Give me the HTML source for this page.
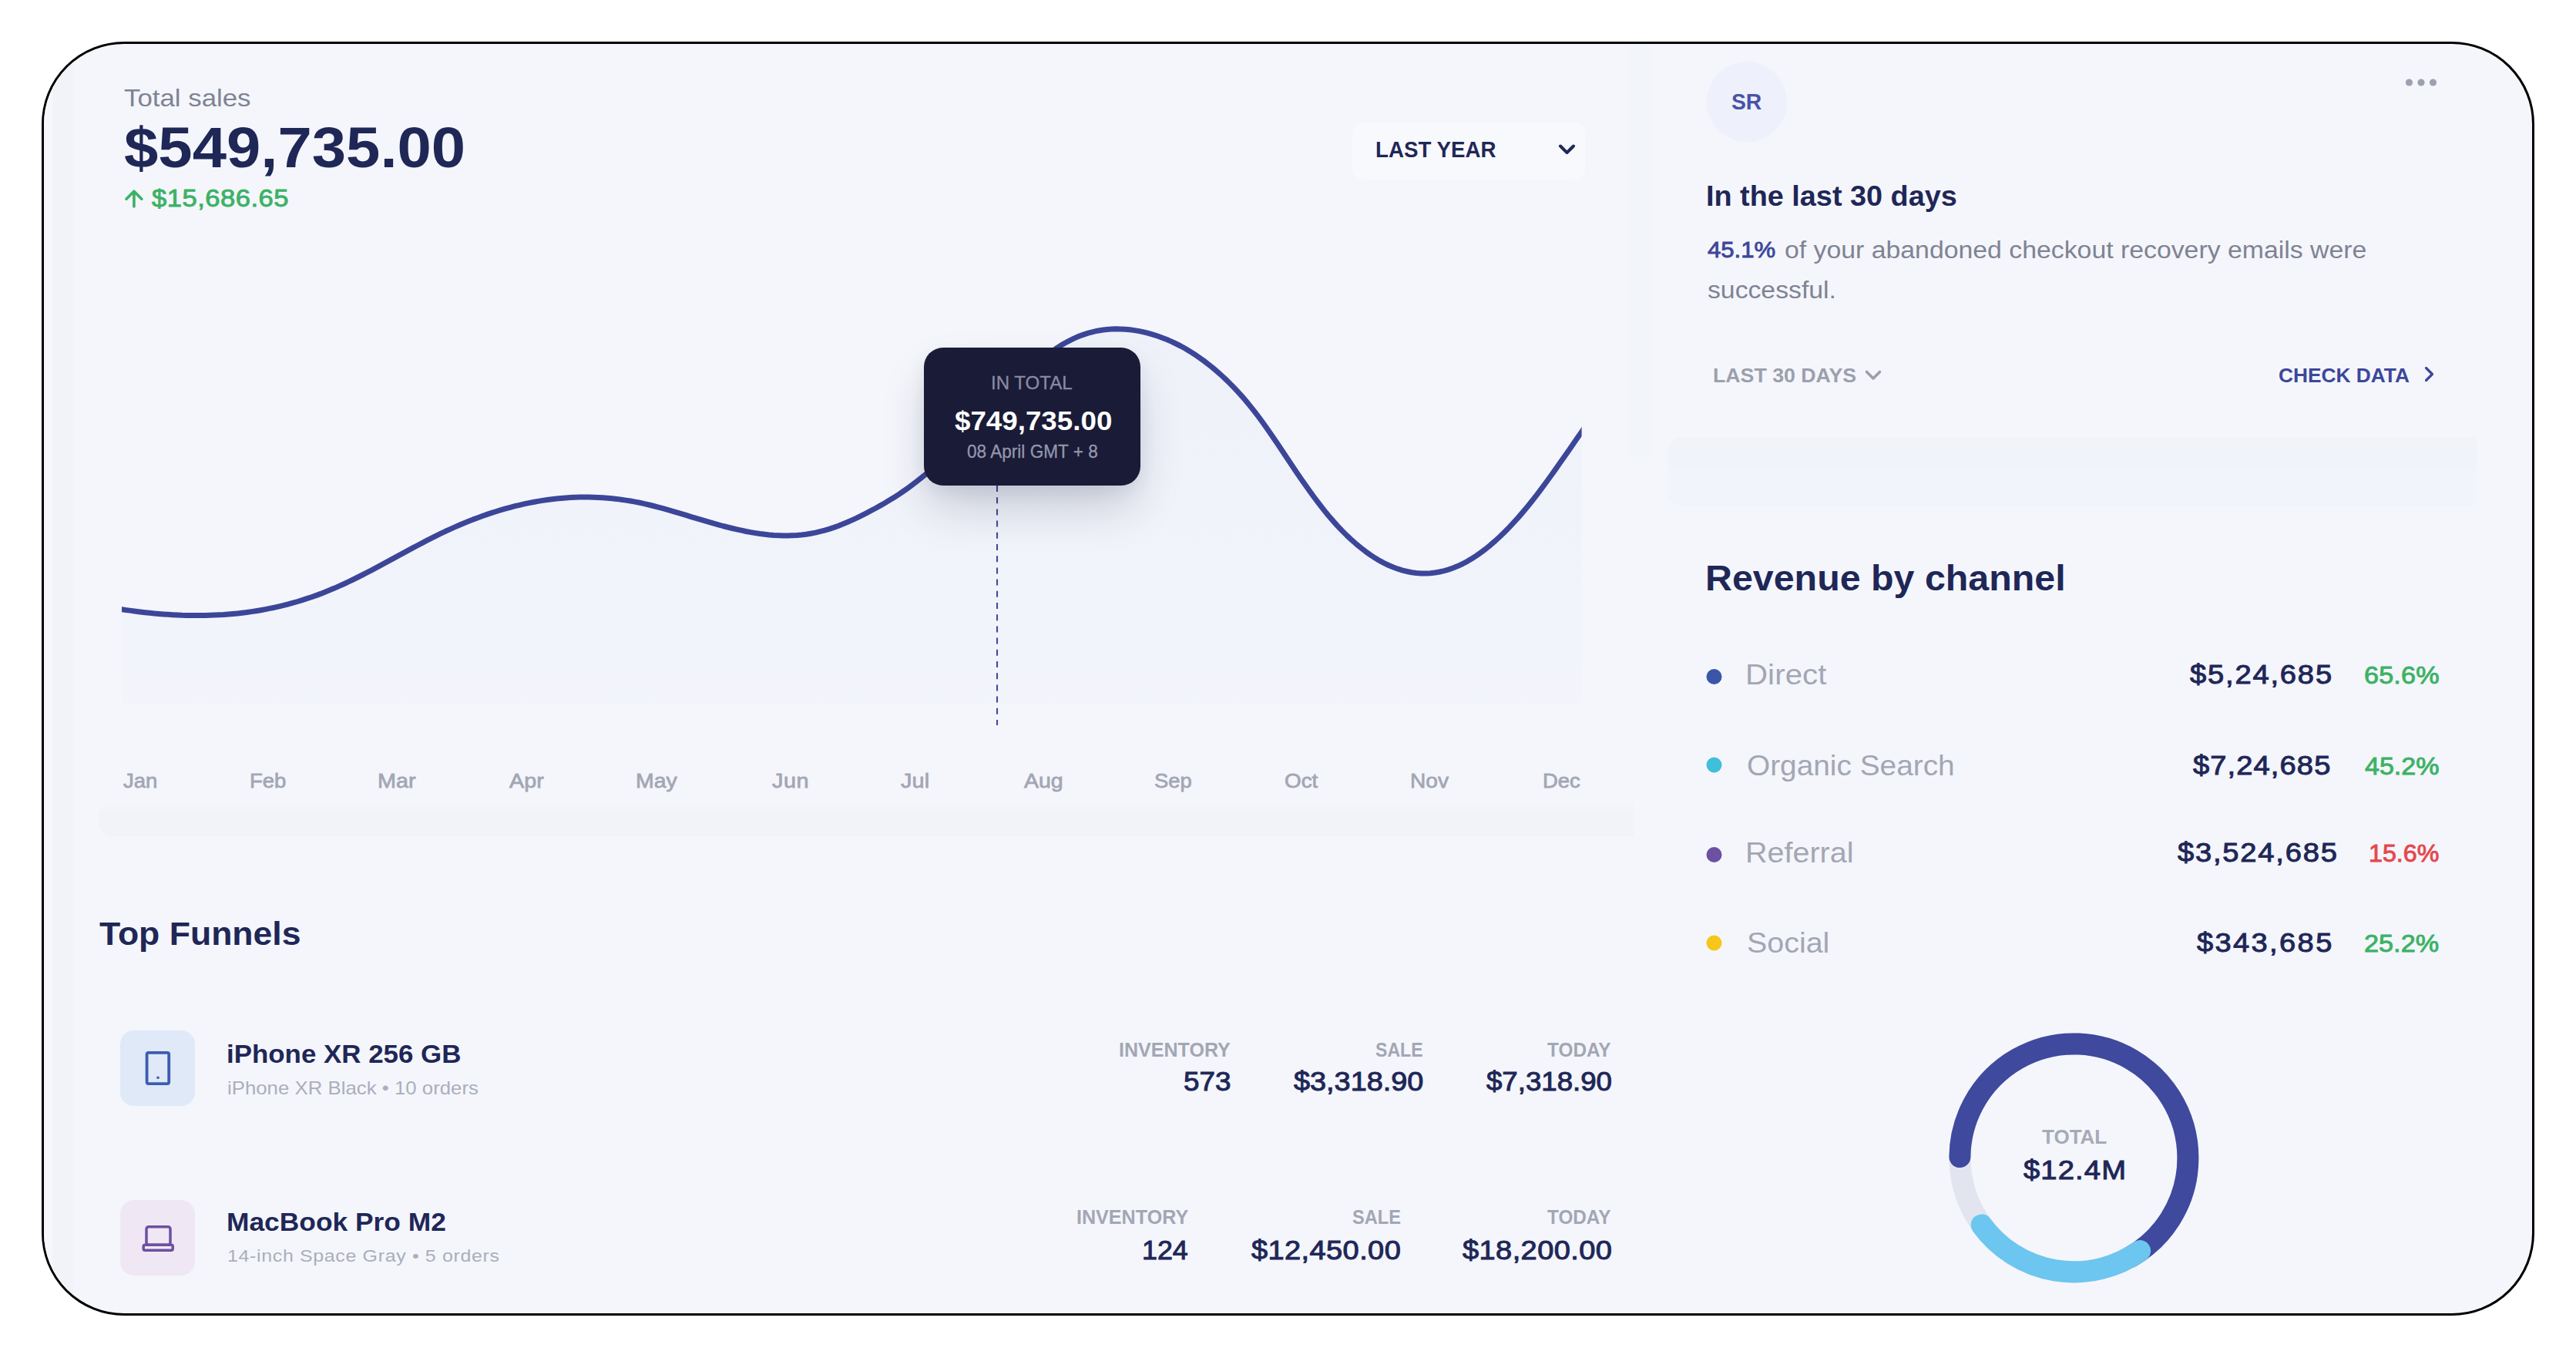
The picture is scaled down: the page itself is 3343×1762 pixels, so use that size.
<!DOCTYPE html><html lang="en"><head><meta charset="utf-8"><title>Sales dashboard</title>
<style>
html,body{margin:0;padding:0;background:#fff;}
body{width:3343px;height:1762px;position:relative;overflow:hidden;font-family:"Liberation Sans", sans-serif;}
.frame{position:absolute;left:54px;top:54px;width:3229px;height:1647px;border:3px solid #000;border-radius:107px;background:#f4f6fb;overflow:hidden;}
.t{position:absolute;display:block;white-space:nowrap;line-height:1;margin:0;padding:0;transform-origin:0 0;font-weight:400;}
.abs{position:absolute;}
svg{position:absolute;left:0;top:0;overflow:visible;}
</style></head><body>
<div class="frame">

<div class="abs" style="left:71px;top:978px;width:1992px;height:50px;background:linear-gradient(rgba(241,243,248,0) 0,#f1f3f8 45%,#f1f3f8 100%);border-radius:24px 0 0 18px;"></div>
<div class="abs" style="left:2055px;top:0;width:31px;height:535px;background:#f2f5fa;"></div>
<div class="abs" style="left:11px;top:0;width:27px;height:1647px;background:#f1f3f9;"></div>
<div class="abs" style="left:0;top:0;width:11px;height:1647px;background:#f5f7fb;"></div>
<div class="abs" style="left:2108px;top:510px;width:1049px;height:89px;background:linear-gradient(#f1f3f8 0,#f1f3f8 28%,#f1f3fb 28%,#f1f3fb 45%,#f1f4fa 45%);border-radius:16px 0 0 16px;"></div>

<div class="abs" style="left:1698px;top:102px;width:302px;height:74px;border-radius:14px;background:#f8f9fc;"></div>
</div>

<svg width="3343" height="1762" viewBox="0 0 3343 1762">
<!-- up arrow -->
<path d="M173.9,268 V248.2 M164,258.2 L173.9,248.2 L183.8,258.2" fill="none" stroke="#3db265" stroke-width="3.6" stroke-linecap="round" stroke-linejoin="round"/>
<!-- chevrons -->
<path d="M2025,189.5 L2033.5,198 L2042,189.5" fill="none" stroke="#1f2757" stroke-width="4" stroke-linecap="round" stroke-linejoin="round"/>
<path d="M2422.5,482.5 L2431,491 L2439.5,482.5" fill="none" stroke="#9c9fad" stroke-width="3.6" stroke-linecap="round" stroke-linejoin="round"/>
<path d="M3148.5,477.5 L3156.5,485.5 L3148.5,493.5" fill="none" stroke="#3d4799" stroke-width="3.2" stroke-linecap="round" stroke-linejoin="round"/>
<!-- avatar -->
<circle cx="2267" cy="132" r="52" fill="#eef0fb"/>
<!-- more dots -->
<circle cx="3126.5" cy="107" r="4.6" fill="#9da0ae"/><circle cx="3142" cy="107" r="4.6" fill="#9da0ae"/><circle cx="3157.5" cy="107" r="4.6" fill="#9da0ae"/>
<!-- legend dots -->
<circle cx="2224.5" cy="878" r="10" fill="#3a56a8"/>
<circle cx="2224.5" cy="992.5" r="10" fill="#40bfda"/>
<circle cx="2224.5" cy="1109" r="10" fill="#6c50a1"/>
<circle cx="2224.5" cy="1223.5" r="10" fill="#f6c61a"/>
<!-- product icons -->
<rect x="156" y="1337" width="97" height="98" rx="18" fill="#dfe9f8"/>
<rect x="190.6" y="1365.9" width="28.6" height="40.3" rx="2.2" fill="none" stroke="#3d5db1" stroke-width="3.8"/>
<circle cx="205" cy="1398.3" r="1.8" fill="#3d5db1"/>
<rect x="156" y="1557" width="97" height="98" rx="18" fill="#efe8f4"/>
<rect x="190" y="1591.7" width="31" height="23.5" rx="3" fill="none" stroke="#6c50a1" stroke-width="3.5"/>
<rect x="186.2" y="1615.2" width="38" height="7" rx="2" fill="none" stroke="#6c50a1" stroke-width="3.5"/>
<!-- donut -->
<circle cx="2691.4" cy="1502.4" r="148" fill="none" stroke="#e2e4f0" stroke-width="28"/>
<path d="M2543.4,1501.1 A148,148 0 1 1 2765.4,1630.6" fill="none" stroke="#3f499d" stroke-width="28" stroke-linecap="round"/>
<path d="M2777.1,1623.0 A148,148 0 0 1 2571.7,1589.4" fill="none" stroke="#6cc6ef" stroke-width="28" stroke-linecap="round"/>
</svg>

<section aria-label="Total sales">
<svg width="3343" height="1762" viewBox="0 0 3343 1762" role="img" aria-label="Sales chart">
<defs><clipPath id="cc"><rect x="158" y="380" width="1894.6" height="540"/></clipPath><linearGradient id="ag" x1="0" y1="0" x2="0" y2="1"><stop offset="0" stop-color="#dce2f3" stop-opacity="0.24"/><stop offset="1" stop-color="#dce2f3" stop-opacity="0.07"/></linearGradient></defs>
<path d="M150.2,789.5 L158.2,790.7 L164.2,791.6 L170.2,792.4 L176.2,793.2 L182.2,794.0 L188.2,794.7 L194.2,795.3 L200.2,795.9 L206.2,796.4 L212.2,796.9 L218.2,797.3 L224.2,797.7 L230.2,798.0 L236.2,798.3 L242.2,798.4 L248.2,798.6 L254.2,798.6 L260.2,798.6 L266.2,798.5 L272.2,798.3 L278.2,798.1 L284.2,797.8 L290.2,797.5 L296.2,797.0 L302.2,796.5 L308.2,795.9 L314.2,795.2 L320.2,794.5 L326.2,793.6 L332.2,792.7 L338.2,791.7 L344.2,790.6 L350.2,789.4 L356.2,788.2 L362.2,786.8 L368.2,785.4 L374.2,783.8 L380.2,782.2 L386.2,780.5 L392.2,778.6 L398.2,776.7 L404.2,774.7 L410.2,772.6 L416.2,770.4 L422.2,768.0 L428.2,765.6 L434.2,763.1 L440.2,760.4 L446.2,757.7 L452.2,754.9 L458.2,752.0 L464.2,749.0 L470.2,746.0 L476.2,742.9 L482.2,739.8 L488.2,736.6 L494.2,733.4 L500.2,730.2 L506.2,726.9 L512.2,723.6 L518.2,720.4 L524.2,717.1 L530.2,713.9 L536.2,710.7 L542.2,707.5 L548.2,704.3 L554.2,701.2 L560.2,698.1 L566.2,695.1 L572.2,692.2 L578.2,689.3 L584.2,686.6 L590.2,683.9 L596.2,681.3 L602.2,678.7 L608.2,676.3 L614.2,673.9 L620.2,671.7 L626.2,669.5 L632.2,667.4 L638.2,665.4 L644.2,663.5 L650.2,661.7 L656.2,659.9 L662.2,658.3 L668.2,656.7 L674.2,655.3 L680.2,653.9 L686.2,652.6 L692.2,651.5 L698.2,650.4 L704.2,649.4 L710.2,648.5 L716.2,647.7 L722.2,647.1 L728.2,646.5 L734.2,646.0 L740.2,645.6 L746.2,645.3 L752.2,645.1 L758.2,645.1 L764.2,645.1 L770.2,645.2 L776.2,645.4 L782.2,645.8 L788.2,646.2 L794.2,646.8 L800.2,647.4 L806.2,648.2 L812.2,649.1 L818.2,650.0 L824.2,651.1 L830.2,652.3 L836.2,653.6 L842.2,655.0 L848.2,656.5 L854.2,658.1 L860.2,659.7 L866.2,661.4 L872.2,663.1 L878.2,664.9 L884.2,666.6 L890.2,668.4 L896.2,670.3 L902.2,672.1 L908.2,673.9 L914.2,675.7 L920.2,677.4 L926.2,679.2 L932.2,680.8 L938.2,682.5 L944.2,684.0 L950.2,685.5 L956.2,686.9 L962.2,688.2 L968.2,689.5 L974.2,690.6 L980.2,691.6 L986.2,692.5 L992.2,693.2 L998.2,693.9 L1004.2,694.4 L1010.2,694.7 L1016.2,694.9 L1022.2,694.9 L1028.2,694.7 L1034.2,694.4 L1040.2,693.9 L1046.2,693.2 L1052.2,692.2 L1058.2,691.1 L1064.2,689.7 L1070.2,688.2 L1076.2,686.4 L1082.2,684.4 L1088.2,682.2 L1094.2,679.8 L1100.2,677.3 L1106.2,674.6 L1112.2,671.8 L1118.2,668.8 L1124.2,665.8 L1130.2,662.7 L1136.2,659.5 L1142.2,656.1 L1148.2,652.7 L1154.2,649.1 L1160.2,645.4 L1166.2,641.6 L1172.2,637.5 L1178.2,633.3 L1184.2,628.9 L1190.2,624.3 L1196.2,619.5 L1202.2,614.6 L1208.2,609.5 L1214.2,604.2 L1220.2,598.8 L1226.2,593.2 L1232.2,587.6 L1238.2,581.8 L1244.2,575.9 L1250.2,569.9 L1256.2,563.8 L1262.2,557.6 L1268.2,551.4 L1274.2,545.1 L1280.2,538.8 L1286.2,532.4 L1292.2,526.0 L1298.2,519.6 L1304.2,513.2 L1310.2,506.8 L1316.2,500.6 L1322.2,494.4 L1328.2,488.4 L1334.2,482.6 L1340.2,476.9 L1346.2,471.5 L1352.2,466.3 L1358.2,461.4 L1364.2,456.8 L1370.2,452.5 L1376.2,448.6 L1382.2,445.0 L1388.2,441.8 L1394.2,438.9 L1400.2,436.3 L1406.2,434.1 L1412.2,432.2 L1418.2,430.6 L1424.2,429.2 L1430.2,428.2 L1436.2,427.5 L1442.2,427.0 L1448.2,426.8 L1454.2,426.9 L1460.2,427.2 L1466.2,427.8 L1472.2,428.6 L1478.2,429.6 L1484.2,430.9 L1490.2,432.4 L1496.2,434.1 L1502.2,436.0 L1508.2,438.2 L1514.2,440.5 L1520.2,443.1 L1526.2,446.0 L1532.2,449.0 L1538.2,452.3 L1544.2,455.9 L1550.2,459.7 L1556.2,463.8 L1562.2,468.1 L1568.2,472.7 L1574.2,477.5 L1580.2,482.6 L1586.2,488.0 L1592.2,493.6 L1598.2,499.6 L1604.2,505.9 L1610.2,512.4 L1616.2,519.3 L1622.2,526.6 L1628.2,534.1 L1634.2,542.0 L1640.2,550.3 L1646.2,558.8 L1652.2,567.5 L1658.2,576.3 L1664.2,585.3 L1670.2,594.3 L1676.2,603.3 L1682.2,612.2 L1688.2,621.0 L1694.2,629.6 L1700.2,638.1 L1706.2,646.3 L1712.2,654.2 L1718.2,661.8 L1724.2,669.2 L1730.2,676.1 L1736.2,682.8 L1742.2,689.1 L1748.2,695.1 L1754.2,700.7 L1760.2,706.0 L1766.2,710.9 L1772.2,715.6 L1778.2,719.8 L1784.2,723.8 L1790.2,727.4 L1796.2,730.6 L1802.2,733.5 L1808.2,736.0 L1814.2,738.2 L1820.2,740.1 L1826.2,741.5 L1832.2,742.7 L1838.2,743.5 L1844.2,743.9 L1850.2,744.0 L1856.2,743.7 L1862.2,743.0 L1868.2,742.0 L1874.2,740.6 L1880.2,738.9 L1886.2,736.8 L1892.2,734.3 L1898.2,731.5 L1904.2,728.3 L1910.2,724.7 L1916.2,720.9 L1922.2,716.6 L1928.2,712.1 L1934.2,707.2 L1940.2,702.0 L1946.2,696.5 L1952.2,690.7 L1958.2,684.6 L1964.2,678.2 L1970.2,671.6 L1976.2,664.6 L1982.2,657.4 L1988.2,650.0 L1994.2,642.3 L2000.2,634.4 L2006.2,626.2 L2012.2,618.0 L2018.2,609.6 L2024.2,601.1 L2030.2,592.5 L2036.2,583.9 L2042.2,575.2 L2048.2,566.6 L2052.3,560.7 L2060.3,549.3 L2060.3,912 L150.2,912 Z" fill="url(#ag)" clip-path="url(#cc)"/>
<path d="M150.2,789.5 L158.2,790.7 L164.2,791.6 L170.2,792.4 L176.2,793.2 L182.2,794.0 L188.2,794.7 L194.2,795.3 L200.2,795.9 L206.2,796.4 L212.2,796.9 L218.2,797.3 L224.2,797.7 L230.2,798.0 L236.2,798.3 L242.2,798.4 L248.2,798.6 L254.2,798.6 L260.2,798.6 L266.2,798.5 L272.2,798.3 L278.2,798.1 L284.2,797.8 L290.2,797.5 L296.2,797.0 L302.2,796.5 L308.2,795.9 L314.2,795.2 L320.2,794.5 L326.2,793.6 L332.2,792.7 L338.2,791.7 L344.2,790.6 L350.2,789.4 L356.2,788.2 L362.2,786.8 L368.2,785.4 L374.2,783.8 L380.2,782.2 L386.2,780.5 L392.2,778.6 L398.2,776.7 L404.2,774.7 L410.2,772.6 L416.2,770.4 L422.2,768.0 L428.2,765.6 L434.2,763.1 L440.2,760.4 L446.2,757.7 L452.2,754.9 L458.2,752.0 L464.2,749.0 L470.2,746.0 L476.2,742.9 L482.2,739.8 L488.2,736.6 L494.2,733.4 L500.2,730.2 L506.2,726.9 L512.2,723.6 L518.2,720.4 L524.2,717.1 L530.2,713.9 L536.2,710.7 L542.2,707.5 L548.2,704.3 L554.2,701.2 L560.2,698.1 L566.2,695.1 L572.2,692.2 L578.2,689.3 L584.2,686.6 L590.2,683.9 L596.2,681.3 L602.2,678.7 L608.2,676.3 L614.2,673.9 L620.2,671.7 L626.2,669.5 L632.2,667.4 L638.2,665.4 L644.2,663.5 L650.2,661.7 L656.2,659.9 L662.2,658.3 L668.2,656.7 L674.2,655.3 L680.2,653.9 L686.2,652.6 L692.2,651.5 L698.2,650.4 L704.2,649.4 L710.2,648.5 L716.2,647.7 L722.2,647.1 L728.2,646.5 L734.2,646.0 L740.2,645.6 L746.2,645.3 L752.2,645.1 L758.2,645.1 L764.2,645.1 L770.2,645.2 L776.2,645.4 L782.2,645.8 L788.2,646.2 L794.2,646.8 L800.2,647.4 L806.2,648.2 L812.2,649.1 L818.2,650.0 L824.2,651.1 L830.2,652.3 L836.2,653.6 L842.2,655.0 L848.2,656.5 L854.2,658.1 L860.2,659.7 L866.2,661.4 L872.2,663.1 L878.2,664.9 L884.2,666.6 L890.2,668.4 L896.2,670.3 L902.2,672.1 L908.2,673.9 L914.2,675.7 L920.2,677.4 L926.2,679.2 L932.2,680.8 L938.2,682.5 L944.2,684.0 L950.2,685.5 L956.2,686.9 L962.2,688.2 L968.2,689.5 L974.2,690.6 L980.2,691.6 L986.2,692.5 L992.2,693.2 L998.2,693.9 L1004.2,694.4 L1010.2,694.7 L1016.2,694.9 L1022.2,694.9 L1028.2,694.7 L1034.2,694.4 L1040.2,693.9 L1046.2,693.2 L1052.2,692.2 L1058.2,691.1 L1064.2,689.7 L1070.2,688.2 L1076.2,686.4 L1082.2,684.4 L1088.2,682.2 L1094.2,679.8 L1100.2,677.3 L1106.2,674.6 L1112.2,671.8 L1118.2,668.8 L1124.2,665.8 L1130.2,662.7 L1136.2,659.5 L1142.2,656.1 L1148.2,652.7 L1154.2,649.1 L1160.2,645.4 L1166.2,641.6 L1172.2,637.5 L1178.2,633.3 L1184.2,628.9 L1190.2,624.3 L1196.2,619.5 L1202.2,614.6 L1208.2,609.5 L1214.2,604.2 L1220.2,598.8 L1226.2,593.2 L1232.2,587.6 L1238.2,581.8 L1244.2,575.9 L1250.2,569.9 L1256.2,563.8 L1262.2,557.6 L1268.2,551.4 L1274.2,545.1 L1280.2,538.8 L1286.2,532.4 L1292.2,526.0 L1298.2,519.6 L1304.2,513.2 L1310.2,506.8 L1316.2,500.6 L1322.2,494.4 L1328.2,488.4 L1334.2,482.6 L1340.2,476.9 L1346.2,471.5 L1352.2,466.3 L1358.2,461.4 L1364.2,456.8 L1370.2,452.5 L1376.2,448.6 L1382.2,445.0 L1388.2,441.8 L1394.2,438.9 L1400.2,436.3 L1406.2,434.1 L1412.2,432.2 L1418.2,430.6 L1424.2,429.2 L1430.2,428.2 L1436.2,427.5 L1442.2,427.0 L1448.2,426.8 L1454.2,426.9 L1460.2,427.2 L1466.2,427.8 L1472.2,428.6 L1478.2,429.6 L1484.2,430.9 L1490.2,432.4 L1496.2,434.1 L1502.2,436.0 L1508.2,438.2 L1514.2,440.5 L1520.2,443.1 L1526.2,446.0 L1532.2,449.0 L1538.2,452.3 L1544.2,455.9 L1550.2,459.7 L1556.2,463.8 L1562.2,468.1 L1568.2,472.7 L1574.2,477.5 L1580.2,482.6 L1586.2,488.0 L1592.2,493.6 L1598.2,499.6 L1604.2,505.9 L1610.2,512.4 L1616.2,519.3 L1622.2,526.6 L1628.2,534.1 L1634.2,542.0 L1640.2,550.3 L1646.2,558.8 L1652.2,567.5 L1658.2,576.3 L1664.2,585.3 L1670.2,594.3 L1676.2,603.3 L1682.2,612.2 L1688.2,621.0 L1694.2,629.6 L1700.2,638.1 L1706.2,646.3 L1712.2,654.2 L1718.2,661.8 L1724.2,669.2 L1730.2,676.1 L1736.2,682.8 L1742.2,689.1 L1748.2,695.1 L1754.2,700.7 L1760.2,706.0 L1766.2,710.9 L1772.2,715.6 L1778.2,719.8 L1784.2,723.8 L1790.2,727.4 L1796.2,730.6 L1802.2,733.5 L1808.2,736.0 L1814.2,738.2 L1820.2,740.1 L1826.2,741.5 L1832.2,742.7 L1838.2,743.5 L1844.2,743.9 L1850.2,744.0 L1856.2,743.7 L1862.2,743.0 L1868.2,742.0 L1874.2,740.6 L1880.2,738.9 L1886.2,736.8 L1892.2,734.3 L1898.2,731.5 L1904.2,728.3 L1910.2,724.7 L1916.2,720.9 L1922.2,716.6 L1928.2,712.1 L1934.2,707.2 L1940.2,702.0 L1946.2,696.5 L1952.2,690.7 L1958.2,684.6 L1964.2,678.2 L1970.2,671.6 L1976.2,664.6 L1982.2,657.4 L1988.2,650.0 L1994.2,642.3 L2000.2,634.4 L2006.2,626.2 L2012.2,618.0 L2018.2,609.6 L2024.2,601.1 L2030.2,592.5 L2036.2,583.9 L2042.2,575.2 L2048.2,566.6 L2052.3,560.7 L2060.3,549.3" fill="none" stroke="#3c4699" stroke-width="7" stroke-linejoin="round" stroke-linecap="butt" clip-path="url(#cc)"/>
<line x1="1294" y1="630" x2="1294" y2="941" stroke="#46499a" stroke-width="2.1" stroke-dasharray="8 7.2"/>
</svg>
<div class="abs" style="left:1199px;top:451px;width:281px;height:179px;border-radius:25px;background:#1a1b37;box-shadow:0 32px 60px -8px rgba(30,32,64,0.21),0 8px 22px rgba(30,32,64,0.06);"></div>
<div class="t" style="left:160.75px;top:112px;font-size:31.91px;font-weight:400;color:#7f8393;letter-spacing:0.0px;transform:scaleX(1.0915)">Total sales</div>
<h1 class="t" style="left:161.0px;top:155px;font-size:73.57px;font-weight:700;color:#1f2757;letter-spacing:0.0px;transform:scaleX(1.0833)">$549,735.00</h1>
<div class="t" style="left:197.48px;top:242px;font-size:31.43px;font-weight:400;-webkit-text-stroke:0.91px #3db265;color:#3db265;letter-spacing:0.461px;transform:scaleX(1.1)">$15,686.65</div>
<div class="t" style="left:1785.05px;top:180px;font-size:29.08px;font-weight:700;color:#1f2757;letter-spacing:0.0px;transform:scaleX(0.9525)">LAST YEAR</div>
<div class="t" style="left:1285.94px;top:486px;font-size:23.4px;font-weight:400;-webkit-text-stroke:0.30px #888ba1;color:#888ba1;letter-spacing:0.0px;transform:scaleX(1.0287)">IN TOTAL</div>
<div class="t" style="left:1238.5px;top:529px;font-size:35.57px;font-weight:700;color:#ffffff;letter-spacing:-0.0px;transform:scaleX(1.0331)">$749,735.00</div>
<div class="t" style="left:1255.0px;top:575px;font-size:23.26px;font-weight:400;-webkit-text-stroke:0.30px #9497ac;color:#9497ac;letter-spacing:0.0px;transform:scaleX(0.9718)">08 April GMT + 8</div>
<div class="t" style="left:159.79px;top:1000px;font-size:26.24px;font-weight:400;-webkit-text-stroke:0.76px #a3a6b4;color:#a3a6b4;letter-spacing:0.0px;transform:scaleX(1.0497)">Jan</div>
<div class="t" style="left:323.89px;top:1000px;font-size:26.24px;font-weight:400;-webkit-text-stroke:0.76px #a3a6b4;color:#a3a6b4;letter-spacing:0.0px;transform:scaleX(1.0473)">Feb</div>
<div class="t" style="left:489.51px;top:1000px;font-size:26.24px;font-weight:400;-webkit-text-stroke:0.76px #a3a6b4;color:#a3a6b4;letter-spacing:-0.0px;transform:scaleX(1.0978)">Mar</div>
<div class="t" style="left:661.4px;top:1000px;font-size:26.24px;font-weight:400;-webkit-text-stroke:0.76px #a3a6b4;color:#a3a6b4;letter-spacing:0.0px;transform:scaleX(1.0951)">Apr</div>
<div class="t" style="left:825.23px;top:1000px;font-size:26.24px;font-weight:400;-webkit-text-stroke:0.76px #a3a6b4;color:#a3a6b4;letter-spacing:0.0px;transform:scaleX(1.0838)">May</div>
<div class="t" style="left:1002.2px;top:1000px;font-size:26.24px;font-weight:400;-webkit-text-stroke:0.76px #a3a6b4;color:#a3a6b4;letter-spacing:0.461px;transform:scaleX(1.1)">Jun</div>
<div class="t" style="left:1169.4px;top:1000px;font-size:26.24px;font-weight:400;-webkit-text-stroke:0.76px #a3a6b4;color:#a3a6b4;letter-spacing:0.097px;transform:scaleX(1.1)">Jul</div>
<div class="t" style="left:1328.7px;top:1000px;font-size:26.24px;font-weight:400;-webkit-text-stroke:0.76px #a3a6b4;color:#a3a6b4;letter-spacing:0.0px;transform:scaleX(1.0846)">Aug</div>
<div class="t" style="left:1498.34px;top:1000px;font-size:26.24px;font-weight:400;-webkit-text-stroke:0.76px #a3a6b4;color:#a3a6b4;letter-spacing:0.0px;transform:scaleX(1.0431)">Sep</div>
<div class="t" style="left:1667.33px;top:1000px;font-size:26.24px;font-weight:400;-webkit-text-stroke:0.76px #a3a6b4;color:#a3a6b4;letter-spacing:0.0px;transform:scaleX(1.0616)">Oct</div>
<div class="t" style="left:1830.25px;top:1000px;font-size:26.24px;font-weight:400;-webkit-text-stroke:0.76px #a3a6b4;color:#a3a6b4;letter-spacing:0.0px;transform:scaleX(1.0698)">Nov</div>
<div class="t" style="left:2001.99px;top:1000px;font-size:26.24px;font-weight:400;-webkit-text-stroke:0.76px #a3a6b4;color:#a3a6b4;letter-spacing:-0.0px;transform:scaleX(1.0448)">Dec</div>
</section>
<section aria-label="Top Funnels">
<h2 class="t" style="left:129.0px;top:1190px;font-size:42.55px;font-weight:700;color:#1f2757;letter-spacing:0.0px;transform:scaleX(1.0471)">Top Funnels</h2>
<div class="t" style="left:293.93px;top:1351px;font-size:33.69px;font-weight:700;color:#1f2757;letter-spacing:0.0px;transform:scaleX(1.0363)">iPhone XR 256 GB</div>
<div class="t" style="left:294.9px;top:1401px;font-size:23.4px;font-weight:400;color:#abaebb;letter-spacing:0.028px;transform:scaleX(1.1)">iPhone XR Black • 10 orders</div>
<div class="t" style="left:293.83px;top:1570px;font-size:32.62px;font-weight:700;color:#1f2757;letter-spacing:0.0px;transform:scaleX(1.0844)">MacBook Pro M2</div>
<div class="t" style="left:294.9px;top:1618px;font-size:22.7px;font-weight:400;color:#abaebb;letter-spacing:0.593px;transform:scaleX(1.1)">14-inch Space Gray • 5 orders</div>
<div class="t" style="left:1452.02px;top:1350px;font-size:25.53px;font-weight:700;color:#a3a6b4;letter-spacing:0.0px;transform:scaleX(0.982)">INVENTORY</div>
<div class="t" style="left:1536.25px;top:1386px;font-size:34.71px;font-weight:400;-webkit-text-stroke:1.01px #1f2757;color:#1f2757;letter-spacing:0.0px;transform:scaleX(1.0606)">573</div>
<div class="t" style="left:1785.3px;top:1350px;font-size:25.53px;font-weight:700;color:#a3a6b4;letter-spacing:0.0px;transform:scaleX(0.904)">SALE</div>
<div class="t" style="left:1679.33px;top:1386px;font-size:34.71px;font-weight:400;-webkit-text-stroke:1.01px #1f2757;color:#1f2757;letter-spacing:0.0px;transform:scaleX(1.0905)">$3,318.90</div>
<div class="t" style="left:2008.0px;top:1350px;font-size:25.53px;font-weight:700;color:#a3a6b4;letter-spacing:0.0px;transform:scaleX(0.9551)">TODAY</div>
<div class="t" style="left:1928.51px;top:1386px;font-size:34.71px;font-weight:400;-webkit-text-stroke:1.01px #1f2757;color:#1f2757;letter-spacing:0.0px;transform:scaleX(1.0555)">$7,318.90</div>
<div class="t" style="left:1397.0px;top:1567px;font-size:25.11px;font-weight:700;color:#a3a6b4;letter-spacing:0.0px;transform:scaleX(1.0003)">INVENTORY</div>
<div class="t" style="left:1482.43px;top:1605px;font-size:34.57px;font-weight:400;-webkit-text-stroke:1.00px #1f2757;color:#1f2757;letter-spacing:0.0px;transform:scaleX(1.0352)">124</div>
<div class="t" style="left:1755.0px;top:1567px;font-size:25.11px;font-weight:700;color:#a3a6b4;letter-spacing:0.0px;transform:scaleX(0.9408)">SALE</div>
<div class="t" style="left:1624.33px;top:1605px;font-size:34.57px;font-weight:400;-webkit-text-stroke:1.00px #1f2757;color:#1f2757;letter-spacing:0.354px;transform:scaleX(1.1)">$12,450.00</div>
<div class="t" style="left:2008.0px;top:1567px;font-size:25.11px;font-weight:700;color:#a3a6b4;letter-spacing:0.0px;transform:scaleX(0.9675)">TODAY</div>
<div class="t" style="left:1897.53px;top:1605px;font-size:34.57px;font-weight:400;-webkit-text-stroke:1.00px #1f2757;color:#1f2757;letter-spacing:0.364px;transform:scaleX(1.1)">$18,200.00</div>
</section>
<section aria-label="In the last 30 days">
<div class="t" style="left:2247.0px;top:117px;font-size:29.5px;font-weight:700;color:#4a52a6;letter-spacing:0.0px;transform:scaleX(0.9588)">SR</div>
<h2 class="t" style="left:2213.97px;top:236px;font-size:37.23px;font-weight:700;color:#1f2757;letter-spacing:0.0px;transform:scaleX(1.0159)">In the last 30 days</h2>
<div class="t" style="left:2216.44px;top:309px;font-size:30.36px;font-weight:400;-webkit-text-stroke:0.88px #3d4799;color:#3d4799;letter-spacing:0.0px;transform:scaleX(1.024)">45.1%</div>
<div class="t" style="left:2315.92px;top:309px;font-size:31.21px;font-weight:400;color:#7f8393;letter-spacing:0.0px;transform:scaleX(1.0832)">of your abandoned checkout recovery emails were</div>
<div class="t" style="left:2216.0px;top:361px;font-size:31.21px;font-weight:400;color:#7f8393;letter-spacing:0.0px;transform:scaleX(1.0813)">successful.</div>
<div class="t" style="left:2223.45px;top:475px;font-size:25.53px;font-weight:700;color:#9c9fad;letter-spacing:0.0px;transform:scaleX(1.0469)">LAST 30 DAYS</div>
<div class="t" style="left:2956.97px;top:475px;font-size:25.53px;font-weight:700;color:#3d4799;letter-spacing:0.0px;transform:scaleX(1.0308)">CHECK DATA</div>
</section>
<section aria-label="Revenue by channel">
<h2 class="t" style="left:2212.85px;top:727px;font-size:46.1px;font-weight:700;color:#1f2757;letter-spacing:0.0px;transform:scaleX(1.0491)">Revenue by channel</h2>
<div class="t" style="left:2264.7px;top:858px;font-size:36.52px;font-weight:400;color:#a3a6b4;letter-spacing:0.104px;transform:scaleX(1.1)">Direct</div>
<div class="t" style="left:2266.95px;top:976px;font-size:36.88px;font-weight:400;color:#a3a6b4;letter-spacing:0.0px;transform:scaleX(1.0525)">Organic Search</div>
<div class="t" style="left:2264.75px;top:1089px;font-size:36.52px;font-weight:400;color:#a3a6b4;letter-spacing:0.0px;transform:scaleX(1.0821)">Referral</div>
<div class="t" style="left:2266.92px;top:1206px;font-size:36.52px;font-weight:400;color:#a3a6b4;letter-spacing:0.0px;transform:scaleX(1.0795)">Social</div>
<div class="t" style="left:2841.53px;top:858px;font-size:34.64px;font-weight:400;-webkit-text-stroke:1.00px #1f2757;color:#1f2757;letter-spacing:1.662px;transform:scaleX(1.1)">$5,24,685</div>
<div class="t" style="left:2845.53px;top:976px;font-size:34.64px;font-weight:400;-webkit-text-stroke:1.00px #1f2757;color:#1f2757;letter-spacing:1.008px;transform:scaleX(1.1)">$7,24,685</div>
<div class="t" style="left:2825.53px;top:1089px;font-size:34.64px;font-weight:400;-webkit-text-stroke:1.00px #1f2757;color:#1f2757;letter-spacing:1.636px;transform:scaleX(1.1)">$3,524,685</div>
<div class="t" style="left:2850.53px;top:1206px;font-size:34.57px;font-weight:400;-webkit-text-stroke:1.00px #1f2757;color:#1f2757;letter-spacing:2.17px;transform:scaleX(1.1)">$343,685</div>
<div class="t" style="left:3067.88px;top:861px;font-size:31.07px;font-weight:400;-webkit-text-stroke:0.90px #3db265;color:#3db265;letter-spacing:0.157px;transform:scaleX(1.1)">65.6%</div>
<div class="t" style="left:3068.98px;top:979px;font-size:31.07px;font-weight:400;-webkit-text-stroke:0.90px #3db265;color:#3db265;letter-spacing:0.0px;transform:scaleX(1.0954)">45.2%</div>
<div class="t" style="left:3074.13px;top:1092px;font-size:31.07px;font-weight:400;-webkit-text-stroke:0.90px #e5484d;color:#e5484d;letter-spacing:0.0px;transform:scaleX(1.0368)">15.6%</div>
<div class="t" style="left:3068.38px;top:1209px;font-size:31.14px;font-weight:400;-webkit-text-stroke:0.90px #3db265;color:#3db265;letter-spacing:0.012px;transform:scaleX(1.1)">25.2%</div>
<div class="t" style="left:2649.5px;top:1463px;font-size:25.25px;font-weight:700;color:#a7aab6;letter-spacing:0.0px;transform:scaleX(1.0296)">TOTAL</div>
<div class="t" style="left:2625.53px;top:1501px;font-size:34.71px;font-weight:400;-webkit-text-stroke:1.01px #1f2757;color:#1f2757;letter-spacing:1.037px;transform:scaleX(1.1)">$12.4M</div>
</section>
</body></html>
